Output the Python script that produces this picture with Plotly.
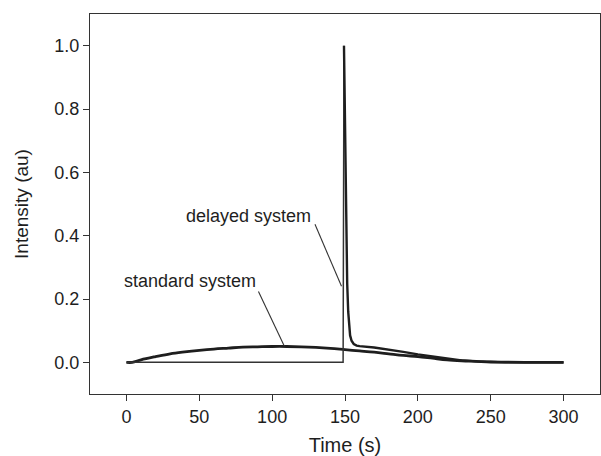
import plotly.graph_objects as go

# Standard system: broad, low elution profile
std_time = [0, 4, 10, 20, 30, 40, 50, 60, 70, 80, 90, 100, 110, 120, 130, 140,
            150, 160, 170, 180, 190, 200, 210, 220, 230, 240, 250, 260, 280, 300]
std_intensity = [0, 0, 0.008, 0.018, 0.027, 0.033, 0.038, 0.042, 0.045, 0.048,
                 0.049, 0.050, 0.050, 0.049, 0.047, 0.044, 0.040, 0.036, 0.032,
                 0.027, 0.022, 0.018, 0.013, 0.008, 0.005, 0.003, 0.001, 0.0005,
                 0, 0]

# Delayed system: nothing until release, then a sharp pulse and a tail
del_time = [0, 148.7, 149.3, 149.8, 150.4, 151.0, 151.5, 152.2, 152.8, 153.5,
            154.5, 156, 158, 160, 170, 180, 190, 200, 210, 220, 230, 240, 250,
            260, 300]
del_intensity = [0, 0, 1.0, 0.82, 0.55, 0.38, 0.25, 0.16, 0.11, 0.085, 0.068,
                 0.058, 0.053, 0.051, 0.047, 0.041, 0.033, 0.025, 0.018, 0.011,
                 0.006, 0.003, 0.001, 0, 0]
PEAK = 2  # index of the pulse maximum in the delayed series

x_ticks = [0, 50, 100, 150, 200, 250, 300]
y_ticks = [0.0, 0.2, 0.4, 0.6, 0.8, 1.0]

FONT = "Arial, Liberation Sans, Helvetica, sans-serif"
INK = "#1e1e1e"

fig = go.Figure()
fig.add_trace(go.Scatter(x=std_time, y=std_intensity, mode="lines",
                         line=dict(color=INK, width=2.8, shape="spline"),
                         name="standard system", showlegend=False))
# delayed series: thin baseline and rising edge, heavier decay tail
fig.add_trace(go.Scatter(x=del_time[:PEAK + 1], y=del_intensity[:PEAK + 1],
                         mode="lines", line=dict(color="#333333", width=1.5),
                         name="delayed system", showlegend=False))
fig.add_trace(go.Scatter(x=del_time[PEAK:], y=del_intensity[PEAK:],
                         mode="lines", line=dict(color=INK, width=2.4),
                         name="delayed system", showlegend=False))

# Text labels with leader lines
labels = [
    dict(text="delayed system", x=83.8, y=0.463, x0=129.4, y0=0.436, x1=147.6, y1=0.240),
    dict(text="standard system", x=43.8, y=0.256, x0=90.6, y0=0.224, x1=108.4, y1=0.051),
]
for lab in labels:
    fig.add_annotation(x=lab["x"], y=lab["y"], text=lab["text"], showarrow=False,
                       font=dict(family=FONT, size=18, color=INK))
    fig.add_shape(type="line", x0=lab["x0"], y0=lab["y0"], x1=lab["x1"], y1=lab["y1"],
                  line=dict(color="#333333", width=1.1))

fig.update_layout(
    width=601, height=456,
    margin=dict(l=90, r=1, t=14, b=62),
    paper_bgcolor="white", plot_bgcolor="white",
    font=dict(family=FONT, size=18, color=INK),
)
fig.update_xaxes(range=[-25, 325], tickvals=x_ticks, ticks="outside", ticklen=6,
                 tickwidth=1.2, tickcolor="#333", showline=True, linecolor="#333",
                 linewidth=1.4, mirror=True, showgrid=False, zeroline=False,
                 title=dict(text="Time (s)", font=dict(size=20), standoff=14),
                 tickfont=dict(size=18))
fig.update_yaxes(range=[-0.1, 1.1], tickvals=y_ticks, tickformat=".1f",
                 ticks="outside", ticklen=6, tickwidth=1.2, tickcolor="#333",
                 showline=True, linecolor="#333", linewidth=1.4, mirror=True,
                 showgrid=False, zeroline=False,
                 title=dict(text="Intensity (au)", font=dict(size=19), standoff=20),
                 tickfont=dict(size=18))

fig.write_html("out.html")
